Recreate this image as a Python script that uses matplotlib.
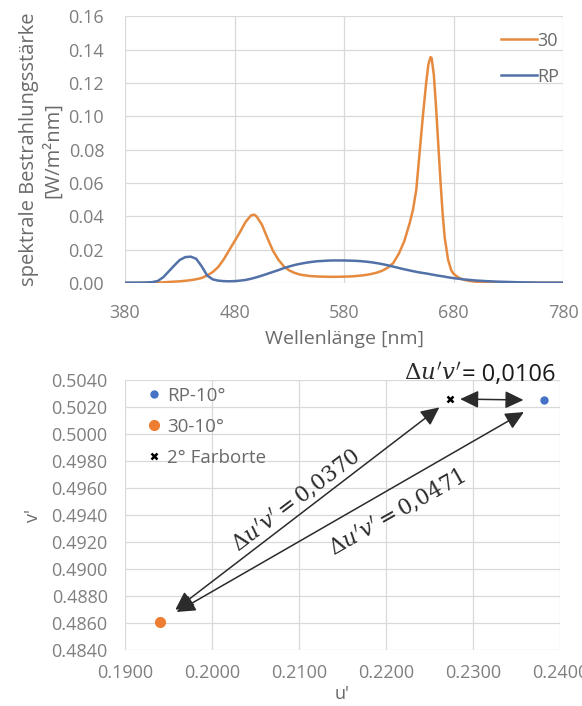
import matplotlib
matplotlib.use("Agg")
import matplotlib.pyplot as plt
from matplotlib.ticker import MultipleLocator, FormatStrFormatter

plt.rcParams['font.family'] = ['Open Sans', 'DejaVu Sans']
plt.rcParams['mathtext.fontset'] = 'dejavuserif'

# ---------------- data: spectra ----------------
wl_rp = [380, 385, 390, 395, 400, 405, 410, 415, 420, 425, 430, 435, 440, 445, 450, 455,
         460, 465, 470, 475, 480, 485, 490, 495, 500, 505, 510, 515, 520, 525, 530, 535,
         540, 545, 550, 555, 560, 565, 570, 575, 580, 585, 590, 595, 600, 605, 610, 615,
         620, 625, 630, 635, 640, 645, 650, 655, 660, 665, 670, 675, 680, 685, 690, 695,
         700, 705, 710, 720, 730, 740, 750, 760, 770, 780]
irr_rp = [0.0002, 0.0002, 0.0002, 0.0002, 0.0003, 0.0005, 0.0012, 0.0035, 0.0070, 0.0105,
          0.0138, 0.0155, 0.0158, 0.0145, 0.0100, 0.0045, 0.0022, 0.0014, 0.0011, 0.0010,
          0.0011, 0.0014, 0.0018, 0.0025, 0.0034, 0.0044, 0.0055, 0.0066, 0.0077, 0.0089,
          0.0099, 0.0108, 0.0115, 0.0121, 0.0126, 0.0130, 0.0132, 0.0134, 0.0135, 0.0135,
          0.0135, 0.0134, 0.0133, 0.0131, 0.0128, 0.0124, 0.0119, 0.0113, 0.0106, 0.0098,
          0.0090, 0.0082, 0.0075, 0.0068, 0.0062, 0.0057, 0.0051, 0.0045, 0.0040, 0.0034,
          0.0029, 0.0025, 0.0021, 0.0018, 0.0015, 0.0013, 0.0011, 0.0008, 0.0006, 0.0004,
          0.0003, 0.0002, 0.0002, 0.0002]

wl_30 = [380, 390, 400, 410, 415, 420, 425, 430, 435, 440, 445, 450, 455, 460, 465, 470,
         475, 480, 485, 490, 495, 498, 500, 505, 510, 515, 520, 525, 530, 535, 540, 545,
         550, 555, 560, 565, 570, 575, 580, 585, 590, 595, 600, 605, 610, 615, 620, 625,
         630, 635, 640, 643, 646, 649, 652, 655, 657, 659, 660, 662, 664, 666, 668, 670,
         672, 675, 678, 680, 685, 690, 695, 700, 710, 720, 740, 760, 780]
irr_30 = [0.0000, 0.0000, 0.0001, 0.0002, 0.0004, 0.0006, 0.0008, 0.0010, 0.0013, 0.0017,
          0.0022, 0.0030, 0.0045, 0.0065, 0.0095, 0.0140, 0.0195, 0.0250, 0.0305, 0.0365,
          0.0405, 0.0410, 0.0400, 0.0350, 0.0270, 0.0195, 0.0140, 0.0100, 0.0075, 0.0060,
          0.0050, 0.0045, 0.0041, 0.0039, 0.0038, 0.0037, 0.0037, 0.0037, 0.0038, 0.0039,
          0.0041, 0.0044, 0.0048, 0.0054, 0.0062, 0.0074, 0.0092, 0.0120, 0.0175, 0.0250,
          0.0360, 0.0440, 0.0560, 0.0780, 0.1000, 0.1200, 0.1310, 0.1355, 0.1350, 0.1250,
          0.1060, 0.0840, 0.0620, 0.0420, 0.0270, 0.0140, 0.0075, 0.0055, 0.0030, 0.0018,
          0.0012, 0.0008, 0.0004, 0.0002, 0.0001, 0.0001, 0.0001]

series_labels = ["30", "RP"]

# ---------------- data: chromaticity ----------------
point_labels = ["RP-10°", "30-10°", "2° Farborte"]
u_rp, v_rp = 0.2382, 0.5025
u_30, v_30 = 0.1940, 0.4861
u_2deg, v_2deg = 0.2274, 0.5026
delta_labels = ["0,0370", "0,0471", "0,0106"]

x_ticks_top = [380, 480, 580, 680, 780]

ORANGE = "#E58A3F"
BLUE = "#5271A8"
GRID = "#D9D9D9"
TICKC = "#7F7F7F"
LABC = "#6A6A6A"
DARK = "#2b2b2b"

fig = plt.figure(figsize=(5.82, 7.06), dpi=100)

# ---------------- top chart ----------------
ax1 = fig.add_axes([0.2148, 0.5992, 0.7526, 0.3777])
ax1.plot(wl_30, irr_30, color=ORANGE, lw=1.8, label=series_labels[0])
ax1.plot(wl_rp, irr_rp, color=BLUE, lw=1.8, label=series_labels[1])
ax1.set_xlim(380, 780)
ax1.set_ylim(0, 0.16)
ax1.set_xticks(x_ticks_top)
ax1.yaxis.set_major_locator(MultipleLocator(0.02))
ax1.yaxis.set_major_formatter(FormatStrFormatter('%.2f'))
ax1.grid(True, color=GRID, lw=0.9)
ax1.set_axisbelow(True)
for s in ax1.spines.values():
    s.set_visible(False)
ax1.tick_params(length=0, colors=TICKC, labelsize=13, pad=15)
ax1.set_xlabel("Wellenlänge [nm]", color=LABC, fontsize=14, labelpad=6)
ax1.set_ylabel("spektrale Bestrahlungsstärke\n[W/m²nm]", color=LABC, fontsize=14.5,
               labelpad=4, linespacing=1.25)
leg1 = ax1.legend(loc="upper right", frameon=False, fontsize=13, handlelength=2.0,
                  handletextpad=0.0, labelspacing=1.0, borderaxespad=0.3,
                  bbox_to_anchor=(1.02, 0.99))
for t in leg1.get_texts():
    t.set_color(LABC)

# ---------------- bottom chart ----------------
ax2 = fig.add_axes([0.2148, 0.0793, 0.7474, 0.3824])
ax2.plot([u_rp], [v_rp], 'o', color="#4472C4", ms=5, label=point_labels[0], zorder=4)
ax2.plot([u_30], [v_30], 'o', color="#ED7D31", ms=7, label=point_labels[1], zorder=4)
ax2.plot([u_2deg], [v_2deg], 'x', color="black", ms=5, mew=1.8, label=point_labels[2], zorder=4)
ax2.set_xlim(0.19, 0.24)
ax2.set_ylim(0.484, 0.504)
ax2.xaxis.set_major_locator(MultipleLocator(0.01))
ax2.yaxis.set_major_locator(MultipleLocator(0.002))
ax2.xaxis.set_major_formatter(FormatStrFormatter('%.4f'))
ax2.yaxis.set_major_formatter(FormatStrFormatter('%.4f'))
ax2.grid(True, color=GRID, lw=0.9)
ax2.set_axisbelow(True)
for s in ax2.spines.values():
    s.set_visible(False)
ax2.tick_params(axis='y', length=0, colors=TICKC, labelsize=13, pad=12.5)
ax2.tick_params(axis='x', length=0, colors=TICKC, labelsize=13, pad=10)
ax2.set_xlabel("u'", color=LABC, fontsize=13, labelpad=2)
ax2.set_ylabel("v'", color=LABC, fontsize=13, labelpad=7)
leg2 = ax2.legend(loc="upper left", frameon=False, fontsize=13.5, handlelength=0.5,
                  handletextpad=0.45, labelspacing=0.7, borderaxespad=0.1,
                  bbox_to_anchor=(0.035, 1.01))
for t in leg2.get_texts():
    t.set_color(LABC)

ARW = dict(arrowstyle='<|-|>,head_length=0.8,head_width=0.38', color=DARK,
           lw=1.1, mutation_scale=14)
# 30-10 <-> 2 deg
ax2.annotate("", xy=(u_2deg, v_2deg), xytext=(u_30, v_30),
             arrowprops=dict(ARW, shrinkA=14, shrinkB=10))
# 30-10 <-> RP
ax2.annotate("", xy=(u_rp, v_rp), xytext=(u_30, v_30),
             arrowprops=dict(ARW, shrinkA=14, shrinkB=17))
# 2 deg <-> RP
ax2.annotate("", xy=(u_rp, v_rp), xytext=(u_2deg, v_2deg),
             arrowprops=dict(ARW, shrinkA=7, shrinkB=15))


def dlabel(val):
    return r"$\Delta u'v' = " + val.replace(",", "{,}") + "$"


ax2.text(0.20966, 0.49511, dlabel(delta_labels[0]), rotation=37, ha='center',
         va='center', fontsize=15.5, color=DARK, rotation_mode='anchor')
ax2.text(0.22126, 0.49422, dlabel(delta_labels[1]), rotation=29.4, ha='center',
         va='center', fontsize=15.5, color=DARK, rotation_mode='anchor')
ax2.text(0.22862, 0.50437, r"$\Delta u'v'$", ha='right', va='center', fontsize=16.5,
         color=DARK)
ax2.text(0.22875, 0.50437, "= " + delta_labels[2], ha='left', va='center', fontsize=17,
         color="#1a1a1a")

fig.savefig("out.png", dpi=100)
